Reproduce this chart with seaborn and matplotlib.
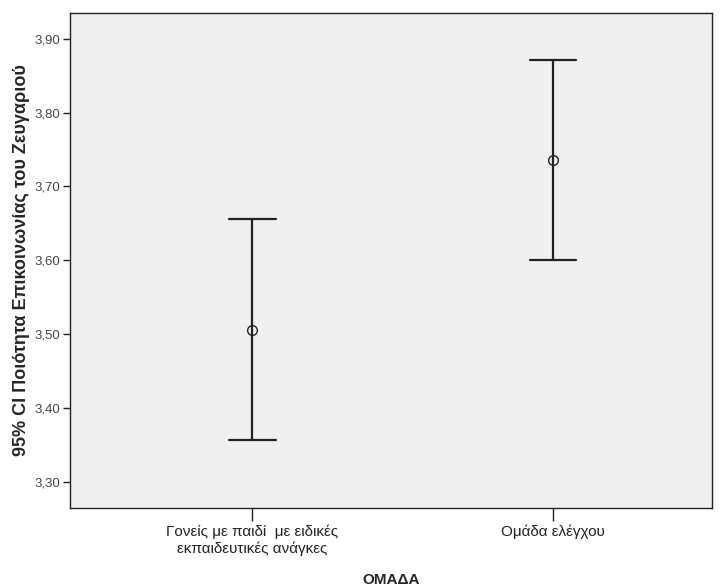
import pandas as pd
import seaborn as sns
import matplotlib.pyplot as plt
from matplotlib.ticker import FuncFormatter, MultipleLocator

groups = ["Γονείς με παιδί  με ειδικές\nεκπαιδευτικές ανάγκες", "Ομάδα ελέγχου"]
means = [3.506, 3.736]
ci_low = [3.357, 3.600]
ci_high = [3.656, 3.871]

# three rows per group: median = mean, min/max = CI bounds
rows = []
for g, lo, m, hi in zip(groups, ci_low, means, ci_high):
    for v in (lo, m, hi):
        rows.append({"ΟΜΑΔΑ": g, "value": v})
df = pd.DataFrame(rows)

sns.set_style("white")
plt.rcParams["font.family"] = ["Liberation Sans", "DejaVu Sans"]

fig = plt.figure(figsize=(7.22, 5.88), dpi=100)
ax = fig.add_axes([0.097, 0.136, 0.889, 0.842])
ax.set_facecolor("#F0F0F0")

sns.pointplot(data=df, x="ΟΜΑΔΑ", y="value", estimator="median", errorbar=("pi", 100),
              capsize=0.156, color="#222222", linestyle="none", marker="o",
              markersize=7, markerfacecolor="none", markeredgewidth=1.0,
              err_kws={"linewidth": 1.6}, ax=ax)

ax.set_xlim(-0.605, 1.528)
ax.set_ylim(3.2645, 3.935)
ax.yaxis.set_major_locator(MultipleLocator(0.1))
ax.yaxis.set_major_formatter(FuncFormatter(lambda v, p: f"{v:.2f}".replace(".", ",")))

for s in ax.spines.values():
    s.set_color("#222222")
    s.set_linewidth(1.0)

ax.tick_params(axis="y", direction="out", length=5, width=1, colors="#222222", labelsize=9.5, labelcolor="#444444", left=True, pad=2)
ax.tick_params(axis="x", direction="out", length=9, width=1, colors="#222222", labelsize=11, labelcolor="#222222", bottom=True, pad=3)
ax.set_ylabel("95% CI Ποιότητα Επικοινωνίας του Ζευγαριού", fontsize=13, fontweight="bold", labelpad=3)
ax.set_xlabel("ΟΜΑΔΑ", fontsize=11, fontweight="bold", labelpad=12)

fig.savefig("out.png", dpi=100)
